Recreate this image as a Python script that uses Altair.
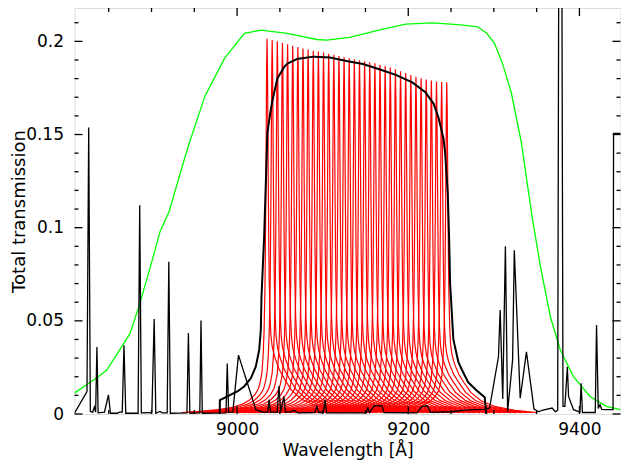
import altair as alt
import pandas as pd

# ---------------- data ----------------
# broad blocking filter (green)
green_wl = [8809.9, 8839.3, 8847.7, 8874.7, 8886.2, 8901.6, 8910.0, 8920.6, 8936.2, 8943.1,
            8962.4, 8985.5, 9008.5, 9027.7, 9058.5, 9093.1, 9104.7, 9131.2, 9165.8, 9197.0,
            9228.1, 9258.1, 9281.2, 9291.6, 9300.8, 9310.0, 9320.4, 9332.0, 9345.0, 9354.7,
            9366.2, 9377.8, 9393.1, 9412.4, 9431.5, 9448.0]
green_tr = [0.0112, 0.0205, 0.0236, 0.043, 0.059, 0.0838, 0.098, 0.1087, 0.1334, 0.144,
            0.1706, 0.191, 0.2043, 0.206, 0.2043, 0.201, 0.2007, 0.2021, 0.206, 0.2092,
            0.2099, 0.209, 0.2078, 0.2043, 0.1989, 0.1883, 0.1724, 0.146, 0.105, 0.0785,
            0.0519, 0.0342, 0.02, 0.0094, 0.0041, 0.0023]

# total transmission (smooth black)
total_wl = [8979.7, 8979.9, 8989.3, 9000.8, 9008.5, 9016.2, 9021.9, 9025.8, 9027.7, 9028.5,
            9031.6, 9035.4, 9039.2, 9041.2, 9047.0, 9054.7, 9058.5, 9070.0, 9089.3, 9108.5,
            9127.7, 9147.0, 9166.1, 9185.4, 9204.7, 9220.0, 9229.6, 9235.4, 9241.1, 9243.1,
            9246.2, 9247.7, 9248.9, 9252.7, 9258.5, 9262.4, 9270.0, 9281.5, 9289.3, 9291.2]
total_tr = [0.0, 0.0074, 0.0096, 0.0122, 0.0149, 0.0193, 0.0255, 0.0344, 0.045, 0.063,
            0.095, 0.151, 0.163, 0.168, 0.180, 0.186, 0.188, 0.1905, 0.1918, 0.1913,
            0.1895, 0.1878, 0.185, 0.182, 0.178, 0.1727, 0.1665, 0.159, 0.148, 0.140,
            0.118, 0.095, 0.070, 0.040, 0.028, 0.024, 0.017, 0.012, 0.009, 0.0]

# sky emission spectrum (spiky black)
sky_wl = [8810.0, 8824.6, 8826.6, 8828.5, 8831.2, 8833.2, 8834.7, 8836.2, 8837.6, 8845.0,
          8849.7, 8852.0, 8860.0, 8862.3, 8865.8, 8867.8, 8869.9, 8884.3, 8886.2, 8888.1,
          8900.4, 8903.1, 8905.0, 8909.7, 8912.5, 8918.3, 8920.2, 8922.0, 8941.4, 8943.1,
          8944.8, 8956.4, 8957.8, 8959.3, 8987.0, 8988.5, 8990.1, 8995.0, 9001.6, 9021.9,
          9030.0, 9035.8, 9037.4, 9039.0, 9046.8, 9048.9, 9050.9, 9054.7, 9056.5, 9062.0,
          9066.2, 9071.0, 9090.8, 9093.1, 9095.4, 9100.8, 9102.7, 9104.6, 9150.8, 9152.8,
          9154.7, 9160.4, 9169.3, 9171.6, 9210.2, 9216.2, 9222.3, 9225.8, 9250.0, 9270.0,
          9289.3, 9295.0, 9305.4, 9307.4, 9310.4, 9313.5, 9316.1, 9321.9, 9323.9, 9330.8,
          9338.1, 9346.9, 9352.7, 9356.2, 9368.1, 9371.8, 9374.6, 9377.6, 9380.8, 9383.0,
          9385.9, 9387.3, 9393.1, 9400.6, 9402.0, 9403.5, 9418.5, 9420.0, 9422.0, 9424.0,
          9426.0, 9431.2, 9439.3, 9439.9, 9462.0]
sky_tr = [0.0005, 0.0121, 0.1538, 0.0014, 0.0009, 0.0037, 0.001, 0.036, 0.0006, 0.001,
          0.0103, 0.0004, 0.0004, 0.001, 0.001, 0.0369, 0.0004, 0.0004, 0.1121, 0.0006,
          0.0008, 0.051, 0.0004, 0.0014, 0.0006, 0.0006, 0.0817, 0.0004, 0.0006, 0.0434,
          0.0004, 0.0006, 0.0502, 0.0004, 0.0006, 0.0271, 0.0009, 0.001, 0.0316, 0.0023,
          0.001, 0.001, 0.0077, 0.001, 0.001, 0.015, 0.001, 0.0094, 0.001, 0.001,
          0.002, 0.0006, 0.0008, 0.0041, 0.0008, 0.0008, 0.0077, 0.0006, 0.0006, 0.0032,
          0.0008, 0.0045, 0.0044, 0.0008, 0.0006, 0.0041, 0.0044, 0.0009, 0.0012, 0.0022,
          0.0025, 0.0032, 0.0307, 0.0558, 0.008, 0.09, 0.0014, 0.0289, 0.0879, 0.0085,
          0.0333, 0.0027, 0.0012, 0.002, 0.0032, 0.0012, 0.002, 0.58, 0.0041, 0.0041,
          0.0253, 0.0094, 0.0023, 0.001, 0.0165, 0.0008, 0.0008, 0.0478, 0.003, 0.005,
          0.0025, 0.0023, 0.0023, 0.1506, 0.1506]

# narrow tunable-filter profiles (red): peak positions and peak heights
peak_wl = [9035, 9041, 9047, 9053, 9059, 9065, 9071, 9077, 9083, 9089, 9095, 9101,
           9107, 9113, 9119, 9125, 9131, 9137, 9143, 9149, 9155, 9161, 9167, 9173,
           9179, 9185, 9191, 9197, 9203, 9209, 9215, 9221, 9227, 9233, 9239, 9245]
peak_tr = [0.2014, 0.2007, 0.2000, 0.1993, 0.1985, 0.1977, 0.1969, 0.1962, 0.1956, 0.1950,
           0.1945, 0.1940, 0.1934, 0.1928, 0.1922, 0.1915, 0.1909, 0.1903, 0.1898, 0.1893,
           0.1888, 0.1882, 0.1875, 0.1867, 0.1859, 0.1850, 0.1840, 0.1830, 0.1820, 0.1810,
           0.1802, 0.1795, 0.1790, 0.1785, 0.1782, 0.1780]
# shape of one profile (offset in Angstrom, fraction of peak)
prof_offset = [-100, -75, -57, -40, -28, -20, -14, -10, -8, -6, -4.5, -3.5, -2.5, -2, -1.5,
               -1, -0.5, 0, 0.5, 1, 1.5, 2, 2.5, 3.5, 4.5, 6, 8, 10, 14, 20, 28, 40, 57,
               80, 105]
prof_rel = [0.004, 0.008, 0.012, 0.018, 0.027, 0.038, 0.052, 0.068, 0.085, 0.11, 0.16,
            0.22, 0.33, 0.43, 0.57, 0.74, 0.92, 1.0, 0.92, 0.76, 0.6, 0.46, 0.36, 0.26,
            0.21, 0.18, 0.16, 0.145, 0.12, 0.095, 0.065, 0.04, 0.022, 0.011, 0.004]

# axis ticks
x_major = [9000, 9200, 9400]
x_minor = [8850, 8900, 8950, 9050, 9100, 9150, 9250, 9300, 9350]
y_major = [0, 0.05, 0.1, 0.15, 0.2]
y_minor = [0.01, 0.02, 0.03, 0.04, 0.06, 0.07, 0.08, 0.09, 0.11, 0.12, 0.13, 0.14,
           0.16, 0.17, 0.18, 0.19, 0.21]

# ---------------- tables ----------------
green_df = pd.DataFrame({"wl": green_wl, "tr": green_tr})
total_df = pd.DataFrame({"wl": total_wl, "tr": total_tr})
sky_df = pd.DataFrame({"wl": sky_wl, "tr": sky_tr})
rows = []
for i, (c, h) in enumerate(zip(peak_wl, peak_tr)):
    for o, r in zip(prof_offset, prof_rel):
        rows.append({"wl": c + o, "tr": h * r, "p": i})
red_df = pd.DataFrame(rows)

W, H = 546, 406
FONT = "DejaVu Sans"

xscale = alt.Scale(domain=[8810, 9448], nice=False, zero=False)
yscale = alt.Scale(domain=[0, 0.2179], nice=False, zero=False)

xaxis = alt.Axis(values=x_major, format="d", grid=False, ticks=False, tickSize=0,
                 domain=False, labelFont=FONT, labelFontSize=17, labelColor="black",
                 labelBaseline="alphabetic", labelPadding=20, labelOverlap=False,
                 labelFlush=False,
                 title="Wavelength [Å]", titleFont=FONT, titleFontSize=17,
                 titleFontWeight="normal", titleColor="black",
                 titleBaseline="alphabetic", titleX=W / 2, titleY=41, titleAlign="center")
yaxis = alt.Axis(values=y_major, format="~g", grid=False, ticks=False, tickSize=0,
                 domain=False, labelFont=FONT, labelFontSize=17, labelColor="black",
                 labelAlign="right", labelBaseline="middle", labelPadding=11,
                 labelOverlap=False, labelFlush=False,
                 title="Total transmission", titleFont=FONT, titleFontSize=18,
                 titleFontWeight="normal", titleColor="black", titleAngle=270,
                 titleAlign="center", titleBaseline="alphabetic", titleX=-50, titleY=H / 2)


def X():
    return alt.X("wl:Q", scale=xscale, axis=xaxis)


def Y():
    return alt.Y("tr:Q", scale=yscale, axis=yaxis)


green = alt.Chart(green_df).mark_line(color="#00ff00", strokeWidth=1.3, clip=True).encode(
    x=X(), y=Y())
red = alt.Chart(red_df).mark_line(color="#ff0000", strokeWidth=1.2, clip=True).encode(
    x=X(), y=Y(), detail="p:N")
total = alt.Chart(total_df).mark_line(color="black", strokeWidth=2, clip=True).encode(
    x=X(), y=Y())
sky = alt.Chart(sky_df).mark_line(color="black", strokeWidth=1.3, clip=True).encode(
    x=X(), y=Y())

tick_layers = []
for vals, L in ((x_major, 8), (x_minor, 4)):
    d = pd.DataFrame({"wl": vals})
    tick_layers.append(alt.Chart(d).mark_rule(color="black", strokeWidth=1.3).encode(
        x=X(), y=alt.value(H), y2=alt.value(H - L)))
    tick_layers.append(alt.Chart(d).mark_rule(color="black", strokeWidth=1.3).encode(
        x=X(), y=alt.value(0), y2=alt.value(L)))
for vals, L in ((y_major, 8), (y_minor, 4)):
    d = pd.DataFrame({"tr": vals})
    tick_layers.append(alt.Chart(d).mark_rule(color="black", strokeWidth=1.3).encode(
        y=Y(), x=alt.value(0), x2=alt.value(L)))
    tick_layers.append(alt.Chart(d).mark_rule(color="black", strokeWidth=1.3).encode(
        y=Y(), x=alt.value(W), x2=alt.value(W - L)))

chart = alt.layer(green, red, total, sky, *tick_layers).properties(
    width=W, height=H,
    padding={"left": 66.5, "top": 0, "right": 0.5, "bottom": 46},
    autosize=alt.AutoSizeParams(type="none"),
).configure_view(stroke="black", strokeWidth=1.8).configure(background="white")

chart.save("out.html", embed_options={"renderer": "svg", "actions": False})
